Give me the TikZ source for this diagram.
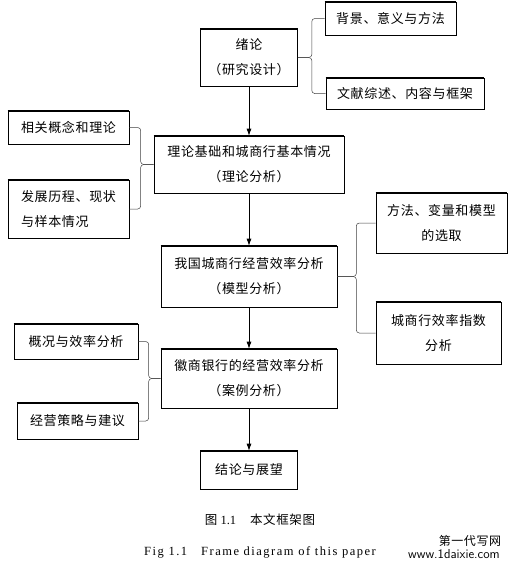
\documentclass[tikz,border=0pt]{standalone}
\usepackage{fontspec}
\setmainfont{Liberation Serif}
\newfontfamily\cjk[LetterSpace=5]{Noto Sans CJK SC}
\newfontfamily\capfont[LetterSpace=12]{Liberation Serif}
\usetikzlibrary{arrows.meta}
\tikzset{
  box/.style = {draw, line width = 0.6pt, inner sep = 0pt, align = center,
                font = \cjk\fontsize{13}{25}\selectfont,
                append after command = {(\tikzlastnode.north west) edge[line width = 1.6pt] (\tikzlastnode.north east)}},
  brace/.style = {draw = black!75, line width = 0.5pt, rounded corners = 3pt},
  flow/.style = {-{Latex[length = 7pt, width = 5pt]}, line width = 0.7pt}
}
\begin{document}
\begin{tikzpicture}[x = 1pt, y = -1pt]
                    \useasboundingbox (0, 0) rectangle (510, 568);
                    % main line
                    \node[box, minimum width = 97,  minimum height = 57] (Intro)   at (249,   57.5) {绪论\\（研究设计）};
                    \node[box, minimum width = 190, minimum height = 57] (Theory)  at (249,  164.5) {理论基础和城商行基本情况\\（理论分析）};
                    \node[box, minimum width = 176, minimum height = 61] (Model)   at (249,  276.5) {我国城商行经营效率分析\\（模型分析）};
                    \node[box, minimum width = 176, minimum height = 59] (Case)    at (249,  378.5) {徽商银行的经营效率分析\\（案例分析）};
                    \node[box, minimum width = 97,  minimum height = 38] (Concl)   at (249,  470)   {结论与展望};
                    
                    % side boxes
                    \node[box, minimum width = 131, minimum height = 33] (Bg)      at (390.5,  18.5) {背景、意义与方法};
                    \node[box, minimum width = 158, minimum height = 31] (Lit)     at (405,    93.5) {文献综述、内容与框架};
                    \node[box, minimum width = 121, minimum height = 33] (Concept) at (68.5,  127.5) {相关概念和理论};
                    \node[box, minimum width = 121, minimum height = 58, align = left] (Hist) at (68.5, 209) {发展历程、现状\\与样本情况};
                    \node[box, minimum width = 131, minimum height = 60] (Method)  at (441.5,  223)  {方法、变量和模型\\的选取};
                    \node[box, minimum width = 125, minimum height = 62] (Index)   at (438.5,  333)  {城商行效率指数\\分析};
                    \node[box, minimum width = 124, minimum height = 35] (Survey)  at (76,   341.5)  {概况与效率分析};
                    \node[box, minimum width = 121, minimum height = 36] (Advice)  at (77.5,   421)  {经营策略与建议};
                    
                    \draw[flow] (Intro)  -- (Theory);
                    \draw[flow] (Theory) -- (Model);
                    \draw[flow] (Model)  -- (Case);
                    \draw[flow] (Case)   -- (Concl);
                    
                    \draw[brace] (Intro.east)  -- ++( 14, 0) |- (Bg.west);
                    \draw[brace] (Intro.east)  -- ++( 14, 0) |- (Lit.west);
                    \draw[brace] (Theory.west) -- ++(-13, 0) |- (Concept.east);
                    \draw[brace] (Theory.west) -- ++(-13, 0) |- (Hist.east);
                    \draw[brace] (Model.east)  -- ++( 19, 0) |- (Method.west);
                    \draw[brace] (Model.east)  -- ++( 19, 0) |- (Index.west);
                    \draw[brace] (Case.west)   -- ++(-12, 0) |- (Survey.east);
                    \draw[brace] (Case.west)   -- ++(-12, 0) |- (Advice.east);
                    
                    % caption
                    \node (CapCn) at (260, 520) {\fontsize{12.5}{14}\selectfont{\cjk 图} 1.1\hspace{14pt}{\cjk 本文框架图}};
                    \node (CapEn) at (260, 552) {\capfont\fontsize{12.5}{14}\selectfont Fig 1.1\hspace{14pt}Frame diagram of this paper};
                    \node[font = \cjk\fontsize{12}{13}\selectfont] (Mark) at (470, 541) {第一代写网};
                    \node[font = \sffamily\fontsize{13}{14}\selectfont] (Url) at (454, 554) {www.1daixie.com};
                \end{tikzpicture}
\end{document}
